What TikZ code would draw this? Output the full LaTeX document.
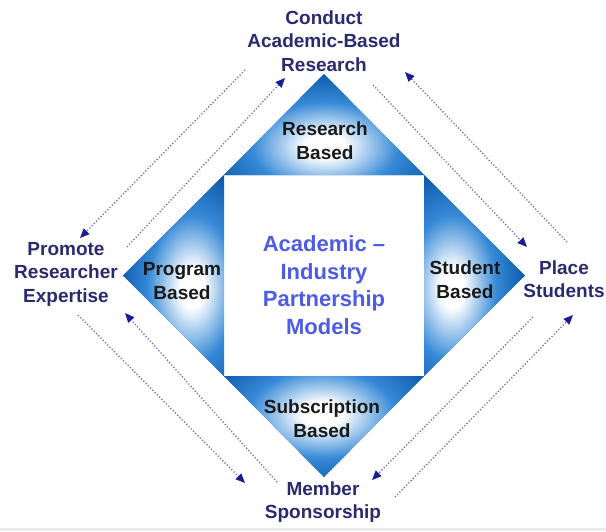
\documentclass[tikz,border=0pt]{standalone}
\usepackage{fontspec}
\setmainfont{Liberation Sans}
\usetikzlibrary{arrows.meta}
\definecolor{triblue}{RGB}{8,84,168}
\definecolor{midblue}{RGB}{55,138,215}
\definecolor{navytext}{RGB}{42,42,112}
\definecolor{centertext}{RGB}{78,92,228}
\definecolor{dotline}{RGB}{105,105,175}
\definecolor{arrowhead}{RGB}{28,28,150}
\pgfdeclareradialshading{trishade}{\pgfpoint{0bp}{0bp}}{color(0bp)=(white); color(3bp)=(white); color(11bp)=(midblue); color(19bp)=(triblue); color(50bp)=(triblue)}
\tikzset{
  outerlabel/.style={font=\bfseries\fontsize{19}{23.5}\selectfont, text=navytext, align=center, inner sep=0pt},
  trilabel/.style={font=\bfseries\fontsize{19}{24}\selectfont, text=black!90, align=center, inner sep=0pt},
  centerlabel/.style={font=\bfseries\fontsize{22}{27.5}\selectfont, text=centertext, align=center, inner sep=0pt},
  flow/.style={line width=1.3pt, dotline, dash pattern=on 1.2pt off 2pt, -{Triangle[length=9.5pt,width=8pt,color=arrowhead]}},
}
\begin{document}
\begin{tikzpicture}[x=1pt,y=-1pt]
\useasboundingbox (0,0) rectangle (606,531);
\fill[white] (0,0) rectangle (606,531);
\fill[black!8] (0,528) rectangle (606,531);
% diamond geometry
\coordinate (apT) at (324,74);
\coordinate (apB) at (324,477);
\coordinate (apL) at (123,275.5);
\coordinate (apR) at (525,275.5);
\coordinate (sqTL) at (224,175);
\coordinate (sqTR) at (424,175);
\coordinate (sqBL) at (224,376);
\coordinate (sqBR) at (424,376);
% top triangle
\begin{scope}
\clip (apT) -- (sqTL) -- (sqTR) -- cycle;
\fill[triblue] (apT) -- (sqTL) -- (sqTR) -- cycle;
\shade[shading=trishade] (325,146) ellipse (165pt and 100pt);
\end{scope}
% left triangle
\begin{scope}
\clip (apL) -- (sqTL) -- (sqBL) -- cycle;
\fill[triblue] (apL) -- (sqTL) -- (sqBL) -- cycle;
\shade[shading=trishade] (192,288) ellipse (100pt and 165pt);
\end{scope}
% right triangle
\begin{scope}
\clip (apR) -- (sqTR) -- (sqBR) -- cycle;
\fill[triblue] (apR) -- (sqTR) -- (sqBR) -- cycle;
\shade[shading=trishade] (452,288) ellipse (100pt and 165pt);
\end{scope}
% bottom triangle
\begin{scope}
\clip (apB) -- (sqBL) -- (sqBR) -- cycle;
\fill[triblue] (apB) -- (sqBL) -- (sqBR) -- cycle;
\shade[shading=trishade] (322,414) ellipse (165pt and 100pt);
\end{scope}
% labels
\node[centerlabel] (center) at (324,285) {Academic --\\Industry\\Partnership\\Models};
\node[trilabel] (research) at (325,141) {Research\\Based};
\node[trilabel] (program) at (182,281) {Program\\Based};
\node[trilabel] (student) at (465,280) {Student\\Based};
\node[trilabel] (subscription) at (322,419) {Subscription\\Based};
\node[outerlabel] (conduct) at (324,41) {Conduct\\Academic-Based\\Research};
\node[outerlabel] (promote) at (66,274) {Promote\\Researcher\\Expertise};
\node[outerlabel] (place) at (564,279) {Place\\Students};
\node[outerlabel] (member) at (323,502) {Member\\Sponsorship};
% connector end points
\coordinate (tlA) at (245,70);  \coordinate (tlB) at (80,238);
\coordinate (tlC) at (127,247); \coordinate (tlD) at (285,78);
\coordinate (trA) at (567,242); \coordinate (trB) at (405,72);
\coordinate (trC) at (373,85);  \coordinate (trD) at (527,247);
\coordinate (brA) at (533,317); \coordinate (brB) at (372,480);
\coordinate (brC) at (395,497); \coordinate (brD) at (573,315);
\coordinate (blA) at (78,315);  \coordinate (blB) at (245,483);
\coordinate (blC) at (277,482); \coordinate (blD) at (125,313);
\draw[flow] (tlA) -- (tlB);
\draw[flow] (tlC) -- (tlD);
\draw[flow] (trA) -- (trB);
\draw[flow] (trC) -- (trD);
\draw[flow] (brA) -- (brB);
\draw[flow] (brC) -- (brD);
\draw[flow] (blA) -- (blB);
\draw[flow] (blC) -- (blD);
\end{tikzpicture}
\end{document}
